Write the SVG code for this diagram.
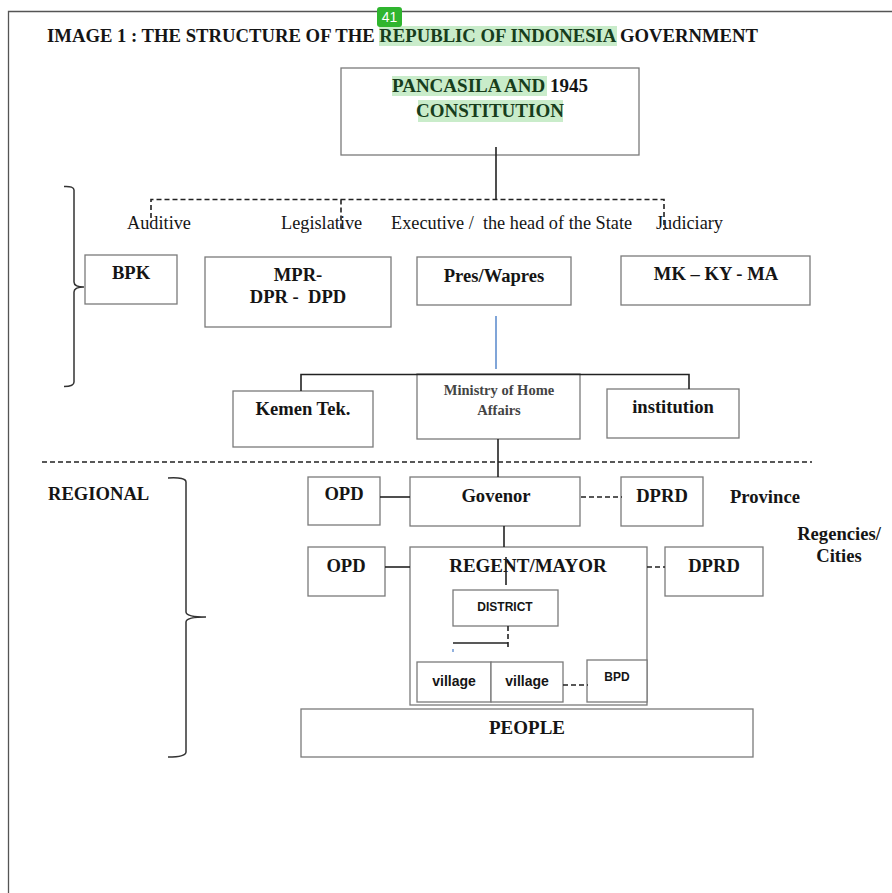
<svg xmlns="http://www.w3.org/2000/svg" width="892" height="893" viewBox="0 0 892 893">
<style>
.bx{fill:#fff;stroke:#7a7a7a;stroke-width:1.3}
.t{font-family:"Liberation Serif","Times New Roman",serif;font-weight:bold;fill:#151515;text-anchor:middle;font-size:18.6px;white-space:pre}
.st{text-anchor:start}
.r{font-family:"Liberation Serif","Times New Roman",serif;fill:#151515;font-size:18.3px;white-space:pre}
.s{font-family:"Liberation Sans",Arial,sans-serif;font-weight:bold;fill:#151515;text-anchor:middle}
.ln{stroke:#222;stroke-width:1.6;fill:none}
.dl{stroke:#222;stroke-width:1.6;fill:none;stroke-dasharray:5 3}
.hl{fill:#c9ecca}
.g{fill:#173d1c}
.br{stroke:#333;stroke-width:1.5;fill:none}
</style>
<rect width="892" height="893" fill="#fff"/>
<path d="M8.5 893V11.5H892" stroke="#555" stroke-width="1.3" fill="none"/>
<g id="title">
<rect class="hl" x="379" y="26" width="238" height="20"/>
<text class="t st" x="47" y="42" style="font-size:18px" textLength="711" lengthAdjust="spacingAndGlyphs">IMAGE 1 : THE STRUCTURE OF THE <tspan class="g">REPUBLIC OF INDONESIA</tspan> GOVERNMENT</text>
<rect x="377" y="7" width="25" height="20" rx="3" fill="#2fb52f"/>
<text x="389.5" y="22" font-family="Liberation Sans,Arial,sans-serif" font-size="14" fill="#fff" text-anchor="middle">41</text>
</g>
<g id="pancasila">
<rect class="bx" x="341" y="68" width="298" height="87"/>
<rect class="hl" x="392" y="76" width="155" height="20"/>
<rect class="hl" x="418" y="100" width="145" height="22"/>
<text class="t" x="490" y="92" style="font-size:19px"><tspan class="g">PANCASILA AND</tspan> 1945</text>
<text class="t g" x="490" y="117" style="font-size:19px">CONSTITUTION</text>
</g>
<g id="labels">
<text class="r" x="127" y="229">Auditive</text>
<text class="r" x="281" y="229">Legislative</text>
<text class="r" x="391" y="229">Executive /  the head of the State</text>
<text class="r" x="656" y="229">Judiciary</text>
</g>
<g id="bpk"><rect class="bx" x="85" y="255" width="92" height="49"/><text class="t" x="131" y="279">BPK</text></g>
<g id="mpr"><rect class="bx" x="205" y="257" width="186" height="70"/><text class="t" x="298" y="281">MPR-</text><text class="t" x="298" y="303">DPR -  DPD</text></g>
<g id="pres"><rect class="bx" x="417" y="257" width="154" height="48"/><text class="t" x="494" y="282">Pres/Wapres</text></g>
<g id="mk"><rect class="bx" x="621" y="256" width="189" height="49"/><text class="t" x="716" y="280">MK – KY - MA</text></g>
<g id="kemen"><rect class="bx" x="233" y="391" width="140" height="56"/><text class="t" x="303" y="415">Kemen Tek.</text></g>
<g id="ministry"><rect class="bx" x="417" y="374" width="163" height="65"/><text class="t" x="499" y="395" style="font-size:14.5px;fill:#444">Ministry of Home</text><text class="t" x="499" y="415" style="font-size:14.5px;fill:#444">Affairs</text></g>
<g id="institution"><rect class="bx" x="607" y="389" width="132" height="49"/><text class="t" x="673" y="413">institution</text></g>
<g id="regional"><text class="t st" x="48" y="500">REGIONAL</text></g>
<g id="opd1"><rect class="bx" x="308" y="477" width="72" height="48"/><text class="t" x="344" y="500">OPD</text></g>
<g id="govenor"><rect class="bx" x="410" y="477" width="170" height="49"/><text class="t" x="496" y="502">Govenor</text></g>
<g id="dprd1"><rect class="bx" x="621" y="477" width="82" height="49"/><text class="t" x="662" y="502">DPRD</text></g>
<g id="province"><text class="t st" x="730" y="503">Province</text></g>
<g id="regencies"><text class="t" x="839" y="540">Regencies/</text><text class="t" x="839" y="562">Cities</text></g>
<g id="opd2"><rect class="bx" x="308" y="547" width="77" height="49"/><text class="t" x="346" y="572">OPD</text></g>
<g id="regent"><rect class="bx" x="410" y="547" width="237" height="158"/><text class="t" x="528" y="572" style="font-size:19px">REGENT/MAYOR</text></g>
<g id="dprd2"><rect class="bx" x="665" y="547" width="98" height="49"/><text class="t" x="714" y="572">DPRD</text></g>
<g id="district"><rect class="bx" x="453" y="590" width="105" height="36"/><text class="s" x="505" y="611" font-size="12">DISTRICT</text></g>
<g id="village1"><rect class="bx" x="417" y="662" width="74" height="40"/><text class="s" x="454" y="686" font-size="14">village</text></g>
<g id="village2"><rect class="bx" x="491" y="662" width="72" height="40"/><text class="s" x="527" y="686" font-size="14">village</text></g>
<g id="bpd"><rect class="bx" x="587" y="660" width="60" height="42"/><text class="s" x="617" y="681" font-size="12">BPD</text></g>
<g id="people"><rect class="bx" x="301" y="709" width="452" height="48"/><text class="t" x="527" y="734" style="font-size:19px">PEOPLE</text></g>
<g id="connectors">
<path class="ln" d="M496 147V199"/>
<path class="dl" d="M151 218V199.5H664V230M341 199.5V230"/>
<path d="M496 316V369" stroke="#4a7fc8" stroke-width="1.4"/>
<path class="ln" d="M301 391V374.5H689V389"/>
<path class="ln" d="M498 439V477"/>
<path class="dl" d="M42 462H812"/>
<path class="ln" d="M380 497H410"/>
<path class="dl" d="M581 497H622"/>
<path class="ln" d="M504 526V547"/>
<path class="ln" d="M385 567H410"/>
<path class="dl" d="M647 567H665"/>
<path class="ln" d="M506 557V585"/>
<path class="dl" d="M508 626V650"/>
<path class="ln" d="M453 643H508"/>
<path d="M453 649V652" stroke="#4a7fc8" stroke-width="1.2"/>
<path class="dl" d="M563 685H588"/>
<path class="br" d="M64 186.5Q74 186 74 190V282Q74 287 84 287Q74 287 74 292V382Q74 386.5 64 386.5"/>
<path class="br" d="M168 478Q186 477 186 482V612Q186 617 206 617Q186 617 186 622V752Q186 757 168 757"/>
</g>
</svg>
